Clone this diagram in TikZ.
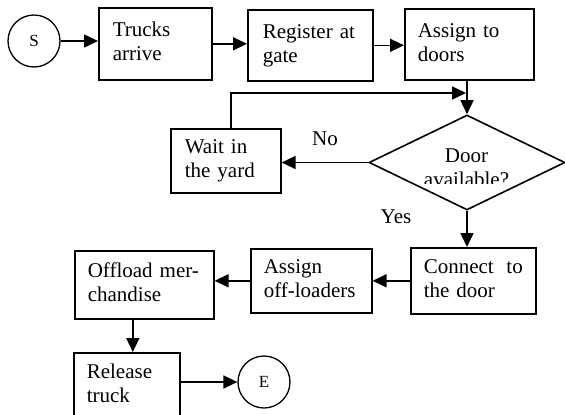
\documentclass[tikz,border=0pt]{standalone}
\usepackage{fontspec}
\setmainfont{Liberation Serif}
\usetikzlibrary{arrows.meta,shapes.geometric}
\begin{document}
\begin{tikzpicture}[x=1pt,y=-1pt,
  proc/.style={draw, line width=1.6pt, rectangle, anchor=north west,
    inner xsep=13pt, inner ysep=0pt, align=left,
    font=\fontsize{21}{24}\selectfont},
  term/.style={draw, circle, line width=1.3pt, minimum size=52pt, inner sep=0pt,
    font=\fontsize{17}{20}\selectfont},
  decision/.style={draw, diamond, line width=1.6pt, inner sep=0pt,
    minimum width=196pt, minimum height=95pt},
  lbl/.style={inner sep=0pt, font=\fontsize{21}{24}\selectfont},
  arr/.style={line width=1.6pt, -{Triangle[length=14pt,width=13pt]}}
]
\useasboundingbox (0,0) rectangle (565,415);

% start / end terminals
\node[term] (s) at (34,41) {S};
\node[term] (e) at (264,382) {E};

% top row
\node[proc, minimum width=113pt, minimum height=72pt, text width=85pt, inner xsep=14pt]
  (trucks) at (98,7) {\strut\mbox{Trucks}\\\strut\mbox{arrive}};
\node[proc, minimum width=125pt, minimum height=71pt, text width=95pt, inner xsep=15pt]
  (reg) at (247,9) {\strut\mbox{Register at}\\\strut\mbox{gate}};
\node[proc, minimum width=129pt, minimum height=71pt, text width=103pt]
  (assign) at (404,8) {\strut\mbox{Assign to}\\\strut\mbox{doors}};

% decision and waiting loop
\node[decision] (door) at (467,162.5) {};
\begin{scope}
  \clip (360,140) rectangle (570,183);
  \node[lbl, align=center] (doorq) at (466.5,169.2) {\strut Door\\\strut available?};
\end{scope}
\node[proc, minimum width=110pt, minimum height=64pt, text width=82pt, inner xsep=14pt]
  (wait) at (170,128) {\strut\mbox{Wait in}\\\strut\mbox{the yard}};
\coordinate (merge) at (467,93);

\node[lbl] (no) at (325,139) {No};
\node[lbl] (yes) at (396,217) {Yes};

% bottom rows
\node[proc, minimum width=125pt, minimum height=66pt, text width=99pt]
  (connect) at (410,247) {\strut\makebox[99pt][s]{Connect\hfill to}\\\strut\mbox{the door}};
\node[proc, minimum width=121pt, minimum height=64pt, text width=95pt]
  (off) at (250,248) {\strut\mbox{Assign}\\\strut\mbox{off-loaders}};
\node[proc, minimum width=139pt, minimum height=68pt, text width=113pt]
  (offload) at (74,250) {\strut\mbox{Offload mer-}\\\strut\mbox{chandise}};
\node[proc, minimum width=106pt, minimum height=66pt, text width=80pt]
  (release) at (73,352) {\strut\mbox{Release}\\\strut\mbox{truck}};

% connectors
\draw[arr] (s.east) -- (s.east -| trucks.west);
\draw[arr] (trucks.east) -- (trucks.east -| reg.west);
\draw[arr] (reg.east) -- (reg.east -| assign.west);
\draw[arr] (door.north |- assign.south) -- (door.north);
\draw[arr, shorten >=1pt] ([xshift=5pt]wait.north) |- (merge);
\draw[arr] (door.west) -- (door.west -| wait.east);
\draw[arr] (door.south) -- (door.south |- connect.north);
\draw[arr] (connect.west) -- (connect.west -| off.east);
\draw[arr] (off.west) -- (off.west -| offload.east);
\draw[arr] ([xshift=-11.5pt]offload.south) -- ([xshift=-11.5pt]offload.south |- release.north);
\draw[arr] (e.west -| release.east) -- (e.west);
\end{tikzpicture}
\end{document}
